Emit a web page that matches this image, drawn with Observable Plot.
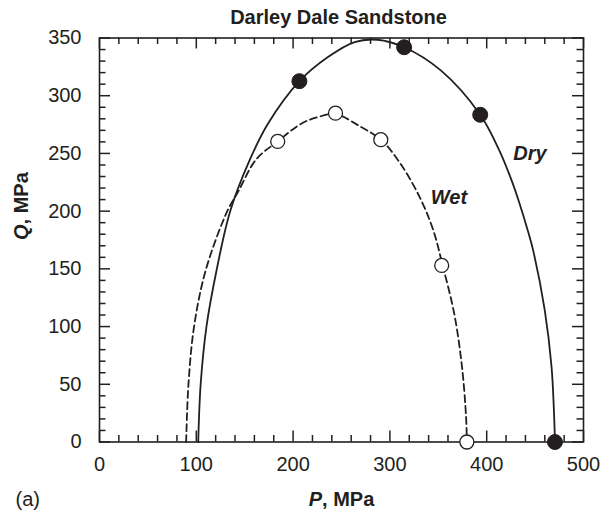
<!DOCTYPE html>
<html><head><meta charset="utf-8">
<script src="https://cdn.jsdelivr.net/npm/d3@7"></script>
<script src="https://cdn.jsdelivr.net/npm/@observablehq/plot@0.6"></script>
<style>html,body{margin:0;padding:0;background:#fff;} svg{display:block}</style>
</head><body><div id="chart"></div>
<script>
// ---- data ----
const titleText = "Darley Dale Sandstone";
const xMajorTicks = [0, 100, 200, 300, 400, 500];
const xMinorTicks = [20,40,60,80,120,140,160,180,220,240,260,280,320,340,360,380,420,440,460,480];
const yMajorTicks = [0, 50, 100, 150, 200, 250, 300, 350];
const yMinorTicks = [10,20,30,40,60,70,80,90,110,120,130,140,160,170,180,190,210,220,230,240,260,270,280,290,310,320,330,340];

// Dry (solid) envelope
const dryCurveP = [102, 104.5, 110.5, 121, 135, 155, 174, 206.5, 236, 263.5, 287, 314.7, 352.6, 393.3, 413, 426, 433, 442.5, 448, 460, 467, 469.7, 470.5];
const dryCurveQ = [0, 50, 100, 149, 200, 244, 275.7, 312.6, 333.5, 346.5, 348.5, 342, 321.9, 283.5, 252.6, 226, 209, 183, 166, 114, 65, 21.5, 0];
// Wet (dashed) envelope
const wetCurveP = [89.5, 91.9, 97.7, 109.8, 132, 142.7, 162, 184, 208.3, 225.6, 243.8, 270, 290.6, 311, 332, 345, 354.5, 366.5, 374.5, 378.7, 379.5];
const wetCurveQ = [0, 50, 100, 149, 200, 216, 245, 260.4, 275.7, 281.5, 284, 273, 262, 241, 210, 183, 153, 111, 65, 21.5, 0];

// Measured points
const dryPointsP = [206.5, 314.7, 393.3, 470.5];
const dryPointsQ = [312.6, 342, 283.5, 0];
const wetPointsP = [184.1, 243.8, 290.6, 353.5, 379.5];
const wetPointsQ = [260.4, 284.9, 261.9, 153, 0];

// Curve labels
const curveLabels = ["Dry", "Wet"];
const curveLabelP = [444.7, 361];
const curveLabelQ = [250, 212];

// ---- build tables ----
const dryCurve = dryCurveP.map((p, i) => ({P: p, Q: dryCurveQ[i]}));
const wetCurve = wetCurveP.map((p, i) => ({P: p, Q: wetCurveQ[i]}));
const dryPts = dryPointsP.map((p, i) => ({P: p, Q: dryPointsQ[i]}));
const wetPts = wetPointsP.map((p, i) => ({P: p, Q: wetPointsQ[i]}));
const labelRows = curveLabels.map((t, i) => ({t, P: curveLabelP[i], Q: curveLabelQ[i]}));

const W = 602, H = 513;
const mL = 99, mR = 19, mT = 37.5, mB = 71.5;
const fw = W - mL - mR, fh = H - mT - mB;
const ink = "#231f20";
const minorLen = 6.5, majorLen = 11;

const chart = Plot.plot({
  width: W, height: H,
  marginLeft: mL, marginRight: mR, marginTop: mT, marginBottom: mB,
  style: {fontFamily: "'Liberation Sans', Arial, Helvetica, sans-serif", fontSize: "20px", color: ink, background: "#fff"},
  x: {domain: [0, 500]},
  y: {domain: [0, 350]},
  marks: [
    // inward ticks, all four sides
    Plot.tickX(xMinorTicks, {x: d => d, insetTop: fh - minorLen, stroke: ink, strokeWidth: 1.5}),
    Plot.tickX(xMajorTicks, {x: d => d, insetTop: fh - majorLen, stroke: ink, strokeWidth: 1.5}),
    Plot.tickX(xMinorTicks, {x: d => d, insetBottom: fh - minorLen, stroke: ink, strokeWidth: 1.5}),
    Plot.tickX(xMajorTicks, {x: d => d, insetBottom: fh - majorLen, stroke: ink, strokeWidth: 1.5}),
    Plot.tickY(yMinorTicks, {y: d => d, insetRight: fw - minorLen, stroke: ink, strokeWidth: 1.5}),
    Plot.tickY(yMajorTicks, {y: d => d, insetRight: fw - majorLen, stroke: ink, strokeWidth: 1.5}),
    Plot.tickY(yMinorTicks, {y: d => d, insetLeft: fw - minorLen, stroke: ink, strokeWidth: 1.5}),
    Plot.tickY(yMajorTicks, {y: d => d, insetLeft: fw - majorLen, stroke: ink, strokeWidth: 1.5}),
    Plot.frame({stroke: ink, strokeWidth: 1.6}),
    Plot.axisX({ticks: xMajorTicks, tickSize: 0, tickPadding: 15, label: null, fill: ink}),
    Plot.axisY({ticks: yMajorTicks, tickSize: 0, tickPadding: 18, label: null, fill: ink}),
    // envelopes
    Plot.line(dryCurve, {x: "P", y: "Q", curve: "catmull-rom", stroke: ink, strokeWidth: 1.8}),
    Plot.line(wetCurve, {x: "P", y: "Q", curve: "catmull-rom", stroke: ink, strokeWidth: 1.8, strokeDasharray: "7,4"}),
    // points
    Plot.dot(wetPts, {x: "P", y: "Q", r: 7, fill: "#fff", stroke: ink, strokeWidth: 1.3}),
    Plot.dot(dryPts, {x: "P", y: "Q", r: 7.5, fill: ink, stroke: ink, strokeWidth: 1}),
    // curve labels
    Plot.text(labelRows, {x: "P", y: "Q", text: "t", fontWeight: "bold", fontStyle: "italic", fill: ink, fontSize: 20}),
    // title & axis labels
    Plot.text([titleText], {text: d => d, frameAnchor: "top", lineAnchor: "bottom", dx: -3, dy: -14.5, fontWeight: "bold", fill: ink, fontSize: 20}),
    Plot.text(["P, MPa"], {text: d => d, frameAnchor: "bottom", lineAnchor: "bottom", dy: 64, fontWeight: "bold", fill: ink, fontSize: 20}),
    Plot.text(["Q, MPa"], {text: d => d, frameAnchor: "left", lineAnchor: "bottom", rotate: -90, dx: -71.5, fontWeight: "bold", fill: ink, fontSize: 20}),
    Plot.text(["(a)"], {text: d => d, frameAnchor: "bottom-left", textAnchor: "start", lineAnchor: "bottom", dx: -84, dy: 64, fill: ink, fontSize: 20})
  ]
});

// italic variable letters in axis labels
d3.select(chart).selectAll("text").each(function() {
  const t = this.textContent;
  if (t === "P, MPa" || t === "Q, MPa") {
    const el = d3.select(this);
    el.text(null);
    el.append("tspan").attr("font-style", "italic").text(t[0]);
    el.append("tspan").text(t.slice(1));
  }
});

document.getElementById("chart").appendChild(chart);
</script>
</body></html>
